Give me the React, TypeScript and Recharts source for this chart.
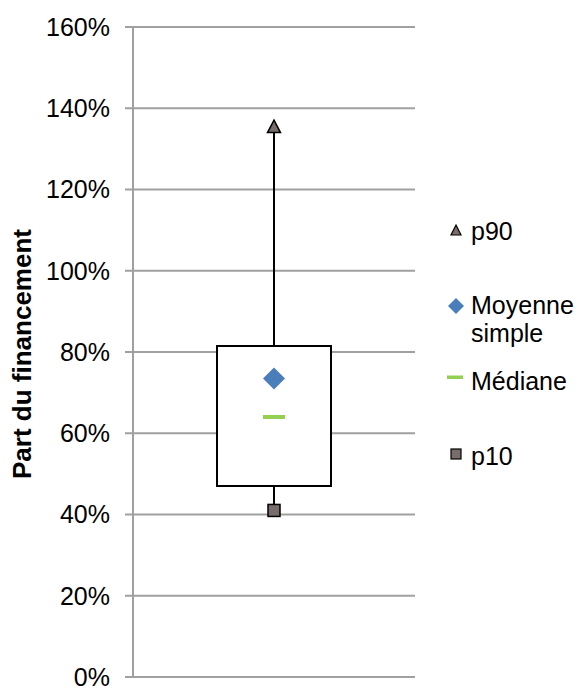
import { ComposedChart, Bar, Line, XAxis, YAxis, CartesianGrid } from 'recharts';

// one category, box plot values in %
const categories = [''];
const p10Values = [41];
const q1Values = [47];
const q3Values = [81.5];
const p90Values = [135.5];
const meanValues = [73.5];
const medianValues = [64];

const yTicks = [0, 20, 40, 60, 80, 100, 120, 140, 160];
const seriesNames = ['p90', 'Moyenne simple', 'Médiane', 'p10'];
const axisTitle = 'Part du financement';

const FONT = '"Liberation Sans", Arial, sans-serif';
const GRID = '#a0a0a0';
const MARKER_FILL = '#786d6a';
const BLUE = '#4a7ebb';
const GREEN = '#92d050';

const data = categories.map((name, i) => ({
  name,
  lowBase: p10Values[i],
  lowWhisker: q1Values[i] - p10Values[i],
  box: q3Values[i] - q1Values[i],
  highWhisker: p90Values[i] - q3Values[i],
  p10: p10Values[i],
  p90: p90Values[i],
  mean: meanValues[i],
  median: medianValues[i],
}));

const Whisker = (props: any) => {
  const { x, y, width, height } = props;
  const cx = x + width / 2;
  return <line x1={cx} y1={y} x2={cx} y2={y + height} stroke="#000" strokeWidth={2} />;
};

const Triangle = (props: any) => {
  const { cx, cy } = props;
  if (cx == null || cy == null) return <g />;
  return (
    <polygon
      points={`${cx},${cy - 6.5} ${cx + 6.5},${cy + 6} ${cx - 6.5},${cy + 6}`}
      fill={MARKER_FILL}
      stroke="#000"
      strokeWidth={1.5}
    />
  );
};

const Square = (props: any) => {
  const { cx, cy } = props;
  if (cx == null || cy == null) return <g />;
  return <rect x={cx - 6} y={cy - 6} width={12} height={12} fill={MARKER_FILL} stroke="#000" strokeWidth={1.5} />;
};

const Diamond = (props: any) => {
  const { cx, cy } = props;
  if (cx == null || cy == null) return <g />;
  return <polygon points={`${cx},${cy - 11} ${cx + 11},${cy} ${cx},${cy + 11} ${cx - 11},${cy}`} fill={BLUE} />;
};

const Dash = (props: any) => {
  const { cx, cy } = props;
  if (cx == null || cy == null) return <g />;
  return <rect x={cx - 11} y={cy - 2} width={22} height={4} fill={GREEN} />;
};

const AxisTitle = (props: any) => {
  const { viewBox } = props;
  const cy = viewBox.y + viewBox.height / 2 + 2;
  return (
    <text
      x={31}
      y={cy}
      transform={`rotate(-90, 31, ${cy})`}
      textAnchor="middle"
      fontFamily={FONT}
      fontWeight="bold"
      fontSize={26}
      fill="#000"
    >
      {axisTitle}
    </text>
  );
};

function LegendBox() {
  const textProps = { fontFamily: FONT, fontSize: 25, fill: '#000' };
  return (
    <svg width={581} height={688} style={{ position: 'absolute', left: 0, top: 0, pointerEvents: 'none' }}>
      <polygon points="456,225 461,235 451,235" fill={MARKER_FILL} stroke="#000" strokeWidth={1.2} />
      <text x={471} y={240} {...textProps}>{seriesNames[0]}</text>

      <polygon points="456,298 464,306 456,314 448,306" fill={BLUE} />
      <text x={471} y={314} {...textProps}>Moyenne</text>
      <text x={471} y={342} {...textProps}>simple</text>

      <rect x={447} y={375.5} width={16} height={3.5} fill={GREEN} />
      <text x={471} y={390} {...textProps}>{seriesNames[2]}</text>

      <rect x={451} y={449} width={10} height={10} fill={MARKER_FILL} stroke="#000" strokeWidth={1.2} />
      <text x={471} y={465} {...textProps}>{seriesNames[3]}</text>
    </svg>
  );
}

export default function App() {
  return (
    <div style={{ position: 'absolute', left: 0, top: 0, width: 581, height: 688, background: '#fff' }}>
      <ComposedChart width={581} height={688} data={data} margin={{ top: 27, right: 166, bottom: 11, left: 0 }}>
        <CartesianGrid vertical={false} stroke={GRID} strokeWidth={2} />
        <XAxis dataKey="name" hide />
        <YAxis
          width={133}
          domain={[0, 160]}
          ticks={yTicks}
          interval={0}
          tickFormatter={(v) => `${v}%`}
          axisLine={{ stroke: GRID, strokeWidth: 2 }}
          tickLine={{ stroke: GRID, strokeWidth: 2 }}
          tickSize={8}
          tickMargin={15}
          tick={{ fill: '#000', fontSize: 25, fontFamily: FONT }}
          label={<AxisTitle />}
        />
        <Bar dataKey="lowBase" stackId="bp" barSize={114} fill="none" isAnimationActive={false} />
        <Bar dataKey="lowWhisker" stackId="bp" barSize={114} shape={<Whisker />} isAnimationActive={false} />
        <Bar dataKey="box" stackId="bp" barSize={114} fill="#fff" stroke="#000" strokeWidth={2} isAnimationActive={false} />
        <Bar dataKey="highWhisker" stackId="bp" barSize={114} shape={<Whisker />} isAnimationActive={false} />
        <Line dataKey="p90" name={seriesNames[0]} stroke="none" dot={<Triangle />} activeDot={false} isAnimationActive={false} />
        <Line dataKey="mean" name={seriesNames[1]} stroke="none" dot={<Diamond />} activeDot={false} isAnimationActive={false} />
        <Line dataKey="median" name={seriesNames[2]} stroke="none" dot={<Dash />} activeDot={false} isAnimationActive={false} />
        <Line dataKey="p10" name={seriesNames[3]} stroke="none" dot={<Square />} activeDot={false} isAnimationActive={false} />
      </ComposedChart>
      <LegendBox />
    </div>
  );
}
